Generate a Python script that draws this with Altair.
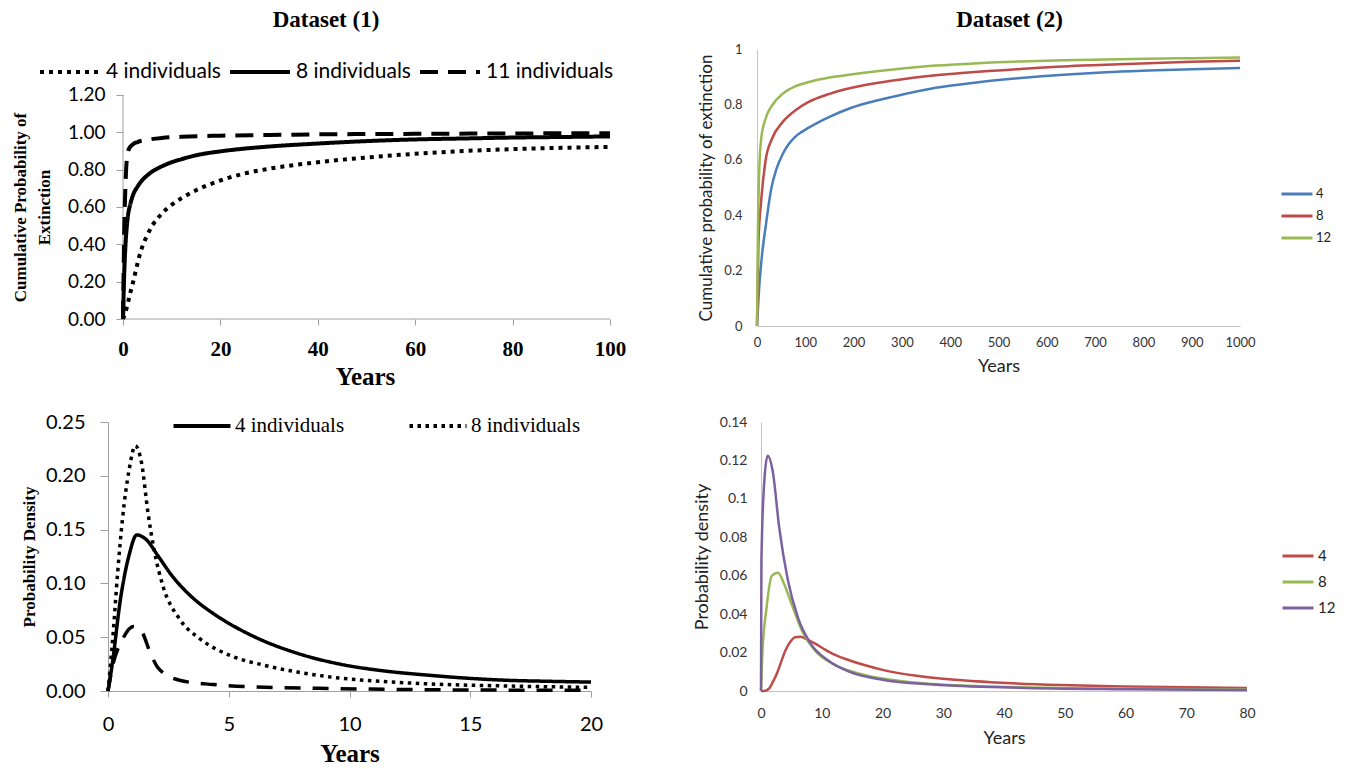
import altair as alt
import pandas as pd

# ---------------- data ----------------
# Dataset (1): cumulative probability of extinction (years 0-100)
P1_SERIES = ["4 individuals", "8 individuals", "11 individuals"]
p1_x_4 = [0, 0.5, 1, 1.5, 2, 2.5, 3, 3.5, 4, 5, 6, 7, 8, 10, 12, 15, 20, 25, 30, 40, 50, 60, 70, 80, 90, 100]
p1_y_4 = [0, 0.035, 0.085, 0.14, 0.19, 0.245, 0.30, 0.35, 0.39, 0.45, 0.50, 0.535, 0.565, 0.612, 0.647,
          0.69, 0.742, 0.78, 0.805, 0.84, 0.865, 0.885, 0.90, 0.91, 0.917, 0.922]
p1_x_8 = [0, 0.2, 0.4, 0.7, 1, 1.5, 2, 3, 4, 5, 6, 8, 10, 12, 15, 20, 25, 30, 40, 50, 60, 70, 80, 90, 100]
p1_y_8 = [0, 0.20, 0.34, 0.47, 0.55, 0.615, 0.66, 0.71, 0.745, 0.77, 0.79, 0.818, 0.84, 0.856, 0.877, 0.898,
          0.913, 0.924, 0.94, 0.953, 0.962, 0.967, 0.972, 0.975, 0.978]
p1_x_11 = [0, 0.1, 0.25, 0.5, 0.8, 1.2, 2, 3, 5, 8, 12, 20, 30, 40, 60, 80, 100]
p1_y_11 = [0, 0.20, 0.47, 0.71, 0.86, 0.91, 0.935, 0.948, 0.96, 0.97, 0.976, 0.982, 0.986, 0.989, 0.992,
           0.994, 0.995]

# Dataset (2): cumulative probability of extinction (years 0-1000)
P2_SERIES = ["4", "8", "12"]
p2_x_4 = [0, 5, 10, 18, 30, 40, 53, 65, 79, 92, 106, 130, 150, 194, 250, 282, 370, 458, 546, 634, 722, 810,
          900, 1000]
p2_y_4 = [0, 0.15, 0.25, 0.36, 0.50, 0.565, 0.62, 0.655, 0.683, 0.70, 0.715, 0.738, 0.755, 0.787, 0.815,
          0.828, 0.86, 0.88, 0.895, 0.907, 0.916, 0.922, 0.927, 0.931]
p2_x_8 = [0, 3, 9, 18, 31, 53, 79, 106, 150, 194, 282, 370, 458, 546, 634, 722, 810, 900, 1000]
p2_y_8 = [0, 0.30, 0.46, 0.60, 0.676, 0.736, 0.778, 0.808, 0.838, 0.859, 0.886, 0.905, 0.918, 0.928, 0.937,
          0.943, 0.949, 0.954, 0.958]
p2_x_12 = [0, 2, 5, 9, 18, 31, 53, 79, 106, 150, 194, 282, 370, 458, 546, 634, 722, 810, 900, 1000]
p2_y_12 = [0, 0.35, 0.58, 0.68, 0.75, 0.796, 0.838, 0.865, 0.88, 0.897, 0.908, 0.926, 0.94, 0.949, 0.955,
           0.959, 0.962, 0.965, 0.967, 0.969]

# Dataset (1): probability density (years 0-20)
P3_SERIES = ["4 individuals", "8 individuals", "11 individuals"]
p3_x_4 = [0, 0.17, 0.52, 0.87, 1.19, 1.57, 2.09, 2.62, 3.49, 4.36, 5.23, 6.1, 7.85, 9.6, 11.3, 13.1, 14.8,
          16.6, 18.3, 20]
p3_y_4 = [0, 0.024, 0.086, 0.126, 0.145, 0.141, 0.125, 0.108, 0.087, 0.072, 0.060, 0.050, 0.035, 0.025,
          0.019, 0.015, 0.012, 0.0099, 0.009, 0.0083]
p3_x_8 = [0, 0.2, 0.4, 0.6, 0.87, 1.13, 1.39, 1.66, 1.92, 2.27, 2.96, 3.84, 5.06, 6.45, 7.85, 9.6, 11.3,
          13.1, 16.6, 20]
p3_y_8 = [0, 0.05, 0.11, 0.16, 0.205, 0.228, 0.212, 0.165, 0.13, 0.098, 0.067, 0.048, 0.033, 0.024,
          0.0176, 0.012, 0.009, 0.0068, 0.0046, 0.0034]
p3_x_11 = [0, 0.2, 0.6, 1.05, 1.4, 1.74, 2.09, 2.96, 4.36, 6.1, 9.6, 13.1, 16.6, 20]
p3_y_11 = [0, 0.024, 0.048, 0.06, 0.055, 0.036, 0.021, 0.010, 0.006, 0.0037, 0.0022, 0.0012, 0.0008, 0.0006]

# Dataset (2): probability density (years 0-80)
P4_SERIES = ["4", "8", "12"]
p4_x_4 = [0, 0.5, 1.25, 2, 2.6, 3.3, 4, 4.8, 5.6, 6.5, 7.5, 9, 10.3, 12, 14.5, 17, 20, 25.6, 31.9, 38.8,
          49.3, 59.7, 70, 80]
p4_y_4 = [0, 0, 0.001, 0.005, 0.009, 0.015, 0.021, 0.0255, 0.028, 0.0282, 0.027, 0.0245, 0.022, 0.019,
          0.016, 0.0135, 0.011, 0.0079, 0.0058, 0.0044, 0.0031, 0.0023, 0.0019, 0.0016]
p4_x_8 = [0, 0.2, 0.9, 1.8, 2.8, 3.7, 5.1, 6.8, 8.9, 11.7, 15.9, 21.4, 28.4, 38.8, 56.2, 80]
p4_y_8 = [0, 0.018, 0.043, 0.060, 0.0615, 0.0565, 0.0447, 0.031, 0.021, 0.0143, 0.0093, 0.0058, 0.0036,
          0.0022, 0.0013, 0.0008]
p4_x_12 = [0, 0.07, 0.56, 1.1, 1.95, 3, 4.4, 6.1, 8.2, 11, 14.5, 20, 28.4, 42.3, 60, 80]
p4_y_12 = [0, 0.068, 0.11, 0.1225, 0.114, 0.085, 0.058, 0.038, 0.0245, 0.016, 0.0101, 0.0059, 0.0034,
           0.0017, 0.0009, 0.0005]

# axis tick values
P1_XTICKS = [0, 20, 40, 60, 80, 100]
P1_YTICKS = [0, 0.2, 0.4, 0.6, 0.8, 1.0, 1.2]
P2_XTICKS = [0, 100, 200, 300, 400, 500, 600, 700, 800, 900, 1000]
P2_YTICKS = [0, 0.2, 0.4, 0.6, 0.8, 1]
P3_XTICKS = [0, 5, 10, 15, 20]
P3_YTICKS = [0, 0.05, 0.10, 0.15, 0.20, 0.25]
P4_XTICKS = [0, 10, 20, 30, 40, 50, 60, 70, 80]
P4_YTICKS = [0, 0.02, 0.04, 0.06, 0.08, 0.10, 0.12, 0.14]


def long_table(names, xs, ys):
    rows = []
    for name, xv, yv in zip(names, xs, ys):
        for a, b in zip(xv, yv):
            rows.append({"x": a, "y": b, "s": name})
    return pd.DataFrame(rows)


df1 = long_table(P1_SERIES, [p1_x_4, p1_x_8, p1_x_11], [p1_y_4, p1_y_8, p1_y_11])
df2 = long_table(P2_SERIES, [p2_x_4, p2_x_8, p2_x_12], [p2_y_4, p2_y_8, p2_y_12])
df3 = long_table(P3_SERIES, [p3_x_4, p3_x_8, p3_x_11], [p3_y_4, p3_y_8, p3_y_11])
df4 = long_table(P4_SERIES, [p4_x_4, p4_x_8, p4_x_12], [p4_y_4, p4_y_8, p4_y_12])

SERIF = "Liberation Serif"
SANS = "Lato"
GRAY = "#a0a0a0"
LIGHT = "#c4c4c4"
BLUE, RED, GREEN, PURPLE = "#4a7ebb", "#be4b48", "#98b954", "#7d60a0"

# ---------------- panel 1 ----------------
p1_x = alt.X("x:Q", scale=alt.Scale(domain=[-3.08, 100], nice=False, zero=False),
             axis=alt.Axis(values=P1_XTICKS, domain=False, grid=False, tickColor=GRAY, tickSize=6,
                           labelFlush=False,
                           labelFont=SERIF, labelFontWeight="bold", labelFontSize=21, labelColor="black",
                           labelPadding=13, title="Years", titleFont=SERIF, titleFontWeight="bold",
                           titleFontSize=25, titleColor="black", titleX=257, titlePadding=5))
p1_y = alt.Y("y:Q", scale=alt.Scale(domain=[0, 1.4464], nice=False),
             axis=alt.Axis(values=P1_YTICKS, format=".2f", offset=-15, domain=False, grid=False,
                           tickColor=GRAY, tickSize=7, labelFont=SANS, labelFontSize=19, labelColor="black",
                           labelPadding=11, title=["Cumulative Probability of", "Extinction"],
                           titleFont=SERIF, titleFontWeight="bold", titleFontSize=17, titleColor="black",
                           titleX=-94, titleY=158, titleLineHeight=24))
p1_axis_lines = pd.DataFrame({"x": [0, 0], "x2": [100, 0], "y": [0, 0], "y2": [0, 1.2]})
p1_rules = alt.Chart(p1_axis_lines).mark_rule(color=GRAY, strokeWidth=1).encode(
    x=p1_x, x2="x2:Q", y=p1_y, y2="y2:Q")
p1_lines = alt.Chart(df1).mark_line(color="black", strokeWidth=4, interpolate="monotone").encode(
    x=p1_x, y=p1_y,
    strokeDash=alt.StrokeDash("s:N", scale=alt.Scale(domain=P1_SERIES, range=[[4, 5], [1, 0], [18, 10]]),
                              legend=alt.Legend(title=None, orient="none", legendX=-70, legendY=12,
                                                direction="horizontal", symbolType="stroke", symbolSize=3600,
                                                symbolStrokeWidth=4, symbolStrokeColor="black",
                                                labelFont=SANS, labelFontSize=21, labelColor="black",
                                                labelOffset=4, columnPadding=7, clipHeight=22)),
)
p1 = alt.layer(p1_rules, p1_lines).properties(
    width=502, height=270,
    title=alt.TitleParams("Dataset (1)", font=SERIF, fontSize=23, fontWeight="bold", color="black",
                          frame="group", anchor="middle", dx=-33, offset=-1, baseline="alphabetic"))

# ---------------- panel 2 ----------------
p2 = alt.Chart(df2).mark_line(strokeWidth=2.5, interpolate="monotone").encode(
    x=alt.X("x:Q", scale=alt.Scale(domain=[0, 1000], nice=False),
            axis=alt.Axis(values=P2_XTICKS, format="d", grid=False, ticks=False, domainColor=LIGHT,
                          labelFlush=False,
                          labelFont=SANS, labelFontSize=13, labelColor="#333333", labelPadding=10,
                          title="Years", titleFont=SANS, titleFontSize=18, titleFontWeight="normal",
                          titleColor="#222222", titlePadding=8)),
    y=alt.Y("y:Q", scale=alt.Scale(domain=[0, 1], nice=False),
            axis=alt.Axis(values=P2_YTICKS, format="~g", grid=False, ticks=False, domainColor=LIGHT,
                          labelFont=SANS, labelFontSize=13, labelColor="#333333", labelPadding=15,
                          title="Cumulative probability of extinction", titleFont=SANS, titleFontSize=17,
                          titleFontWeight="normal", titleColor="#222222", titlePadding=8)),
    color=alt.Color("s:N", scale=alt.Scale(domain=P2_SERIES, range=[BLUE, RED, GREEN]),
                    legend=alt.Legend(title=None, orient="none", legendX=523, legendY=134, symbolType="stroke",
                                      symbolSize=961, symbolStrokeWidth=3, labelFont=SANS, labelFontSize=13,
                                      labelColor="#222222", labelOffset=2, clipHeight=22, rowPadding=0)),
).properties(
    width=483, height=277,
    title=alt.TitleParams("Dataset (2)", font=SERIF, fontSize=23, fontWeight="bold", color="black",
                          frame="group", anchor="middle", dx=11, offset=-7, baseline="alphabetic"))

# ---------------- panel 3 ----------------
p3 = alt.Chart(df3).mark_line(color="black", strokeWidth=3.5, interpolate="monotone").encode(
    x=alt.X("x:Q", scale=alt.Scale(domain=[0, 20], nice=False),
            axis=alt.Axis(values=P3_XTICKS, grid=False, domainColor=GRAY, tickColor=GRAY, tickSize=6,
                          labelFlush=False,
                          labelFont=SANS, labelFontSize=20, labelColor="black", labelPadding=17,
                          title="Years", titleFont=SERIF, titleFontWeight="bold", titleFontSize=25,
                          titleColor="black", titlePadding=7)),
    y=alt.Y("y:Q", scale=alt.Scale(domain=[0, 0.25], nice=False),
            axis=alt.Axis(values=P3_YTICKS, format=".2f", grid=False, domainColor=GRAY, tickColor=GRAY,
                          tickSize=8, labelFont=SANS, labelFontSize=20, labelColor="black", labelPadding=15,
                          title="Probability Density", titleFont=SERIF, titleFontWeight="bold",
                          titleFontSize=17, titleColor="black", titlePadding=7)),
    strokeDash=alt.StrokeDash("s:N", scale=alt.Scale(domain=P3_SERIES, range=[[1, 0], [3.5, 4.5], [16, 12]]),
                              legend=alt.Legend(title=None, orient="none", legendX=63, legendY=-7,
                                                values=["4 individuals", "8 individuals"],
                                                direction="horizontal", symbolType="stroke", symbolSize=3250,
                                                symbolStrokeWidth=4, symbolStrokeColor="black",
                                                labelFont=SERIF, labelFontSize=21, labelColor="black",
                                                labelOffset=2, columnPadding=62, clipHeight=22)),
).properties(width=483, height=269)

# ---------------- panel 4 ----------------
p4 = alt.Chart(df4).mark_line(strokeWidth=2.5, interpolate="monotone").encode(
    x=alt.X("x:Q", scale=alt.Scale(domain=[0, 80], nice=False),
            axis=alt.Axis(values=P4_XTICKS, grid=False, ticks=False, domainColor=LIGHT, labelFlush=False,
                          labelFont=SANS, labelFontSize=14, labelColor="#333333", labelPadding=15, title="Years",
                          titleFont=SANS, titleFontSize=18, titleFontWeight="normal", titleColor="#222222",
                          titlePadding=9)),
    y=alt.Y("y:Q", scale=alt.Scale(domain=[0, 0.14], nice=False),
            axis=alt.Axis(values=P4_YTICKS, format="~g", grid=False, ticks=False, domainColor=LIGHT,
                          labelFont=SANS, labelFontSize=14, labelColor="#333333", labelPadding=14,
                          title="Probability density", titleFont=SANS, titleFontSize=18,
                          titleFontWeight="normal", titleColor="#222222", titlePadding=8)),
    color=alt.Color("s:N", scale=alt.Scale(domain=P4_SERIES, range=[RED, GREEN, PURPLE]),
                    legend=alt.Legend(title=None, orient="none", legendX=520, legendY=121, symbolType="stroke",
                                      symbolSize=961, symbolStrokeWidth=3, labelFont=SANS, labelFontSize=15,
                                      labelColor="#222222", labelOffset=3, clipHeight=26, rowPadding=0)),
).properties(width=486, height=269)

RES = dict(x="independent", y="independent", color="independent", strokeDash="independent")
row1 = alt.hconcat(p1, p2, spacing=71).resolve_scale(**RES).resolve_legend(color="independent", strokeDash="independent")
row2 = alt.hconcat(p3, p4, spacing=90).resolve_scale(**RES).resolve_legend(color="independent", strokeDash="independent")
chart = alt.vconcat(row1, row2, spacing=23).resolve_scale(**RES).resolve_legend(
    color="independent", strokeDash="independent"
).configure_view(stroke=None).properties(
    padding={"left": 3, "top": 1, "right": 0, "bottom": 0}, background="white")

chart.save("out.html", embed_options={"renderer": "svg", "actions": False})
